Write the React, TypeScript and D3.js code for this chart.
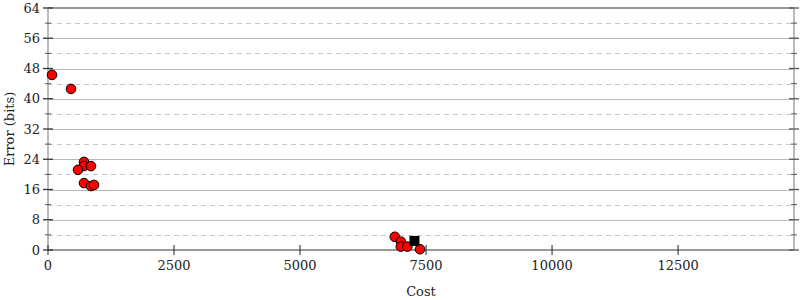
import React from "react";
import * as d3 from "d3";

const costs = [79, 456, 714, 714, 853, 595, 714, 853, 913, 6880, 7000, 7000, 7130, 7380];
const errors = [46.3, 42.6, 23.3, 22.2, 22.2, 21.2, 17.7, 16.9, 17.2, 3.5, 2.2, 0.9, 0.9, 0.2];
const bestCost = [7270];
const bestError = [2.4];
const xTicks = [0, 2500, 5000, 7500, 10000, 12500];
const yTicks = [0, 8, 16, 24, 32, 40, 48, 56, 64];
const yMinor = [4, 12, 20, 28, 36, 44, 52, 60];

const W = 800, H = 300;
const L = 48, R = 794, T = 8, B = 250;

export default function App() {
  const x = d3.scaleLinear().domain([0, 14800]).range([L, R]);
  const y = d3.scaleLinear().domain([0, 64]).range([B, T]);
  const font = "DejaVu Serif, serif";
  return (
    <svg width={W} height={H} style={{ position: "absolute", left: 0, top: 0 }}>
      <rect width={W} height={H} fill="#fff" />
      {yMinor.map((v) => (
        <line key={"m" + v} x1={L} x2={R} y1={Math.round(y(v)) + 0.5} y2={Math.round(y(v)) + 0.5} stroke="#c8c8c8" strokeDasharray="5,4" />
      ))}
      {yTicks.slice(1, -1).map((v) => (
        <line key={"g" + v} x1={L} x2={R} y1={Math.round(y(v)) + 0.5} y2={Math.round(y(v)) + 0.5} stroke="#bbb" />
      ))}
      <line x1={L} x2={R} y1={B} y2={B} stroke="#999" strokeWidth={2} />
      <line x1={L} x2={R} y1={T} y2={T} stroke="#999" strokeWidth={2} />
      <line x1={L} x2={L} y1={T} y2={B} stroke="#bbb" strokeWidth={2} />
      <line x1={R} x2={R} y1={T} y2={B} stroke="#bbb" strokeWidth={2} />
      {yTicks.map((v) => (
        <g key={"yt" + v}>
          <line x1={L - 5} x2={L + 5} y1={y(v)} y2={y(v)} stroke="#333" strokeWidth={1.3} />
          <line x1={R - 5} x2={R + 5} y1={y(v)} y2={y(v)} stroke="#555" strokeWidth={1.3} />
          <text x={L - 8} y={y(v)} dy="0.35em" textAnchor="end" fontFamily={font} fontSize={13} fill="#222">{v}</text>
        </g>
      ))}
      {yMinor.map((v) => (
        <g key={"ym" + v}>
          <line x1={L - 3} x2={L + 3} y1={y(v)} y2={y(v)} stroke="#555" />
          <line x1={R - 3} x2={R + 3} y1={y(v)} y2={y(v)} stroke="#555" />
        </g>
      ))}
      {xTicks.map((v) => (
        <g key={"xt" + v}>
          <line x1={x(v)} x2={x(v)} y1={B - 5} y2={B + 5} stroke="#222" />
          <text x={x(v)} y={B + 20} textAnchor="middle" fontFamily={font} fontSize={13} fill="#222">{v}</text>
        </g>
      ))}
      <text x={(L + R) / 2} y={296} textAnchor="middle" fontFamily={font} fontSize={13} fill="#222">Cost</text>
      <text transform={`translate(14, ${(T + B) / 2}) rotate(-90)`} textAnchor="middle" fontFamily={font} fontSize={13} fill="#222">Error (bits)</text>
      {costs.map((c, i) => (
        <circle key={"p" + i} cx={x(c)} cy={y(errors[i])} r={4.8} fill="#ff0000" stroke="#000" strokeWidth={1} />
      ))}
      {bestCost.map((c, i) => (
        <rect key={"b" + i} x={x(c) - 5} y={y(bestError[i]) - 5} width={10} height={10} fill="#000" />
      ))}
    </svg>
  );
}
